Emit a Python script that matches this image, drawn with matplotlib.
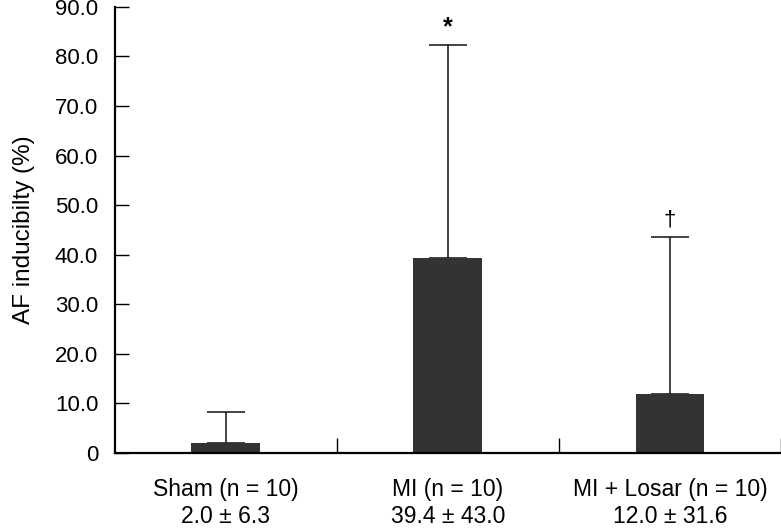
import matplotlib
matplotlib.use('Agg')
import matplotlib.pyplot as plt

# values
groups = ['Sham (n = 10)', 'MI (n = 10)', 'MI + Losar (n = 10)']
means = [2.0, 39.4, 12.0]
sds = [6.3, 43.0, 31.6]
marks = ['', '*', '\u2020']
yticks = [0, 10, 20, 30, 40, 50, 60, 70, 80, 90]

plt.rcParams['font.family'] = ['Liberation Sans', 'DejaVu Sans']

fig = plt.figure(figsize=(7.81, 5.28), dpi=100)
ax = fig.add_axes([0.147, 0.142, 0.853, 0.845])

x = list(range(len(groups)))
ax.bar(x, means, width=0.31, color='#333333', zorder=2)
ax.errorbar(x, means, yerr=[[0] * len(sds), sds], fmt='none', ecolor='#111111',
            elinewidth=1.1, capsize=14, capthick=1.1, zorder=1)

# significance marks above the error bars
for xi, m, s, t in zip(x, means, sds, marks):
    if t == '*':
        ax.text(xi, m + s + 1.0, t, ha='center', va='bottom', fontsize=18, fontweight='bold')
    elif t:
        ax.text(xi, m + s + 1.2, t, ha='center', va='bottom', fontsize=16)

ax.set_xlim(-0.5, 2.5)
ax.set_ylim(0, 90)
ax.set_yticks(yticks)
ax.set_yticklabels(['0'] + ['%.1f' % v for v in yticks[1:]], fontsize=16)
ax.set_xticks([0.5, 1.5, 2.5])
ax.set_xticklabels([])
ax.tick_params(axis='y', direction='in', length=10, width=1.0, pad=12)
ax.tick_params(axis='x', direction='in', length=11, width=1.0)

for xi, g, m, s in zip(x, groups, means, sds):
    ax.text(xi, -0.055, '%s\n%.1f \u00b1 %.1f' % (g, m, s), transform=ax.get_xaxis_transform(),
            ha='center', va='top', fontsize=16.5, linespacing=1.25)

ax.set_ylabel('AF inducibilty (%)', fontsize=17.5, labelpad=14)

ax.spines['top'].set_visible(False)
ax.spines['right'].set_visible(False)
ax.spines['left'].set_linewidth(1.6)
ax.spines['bottom'].set_linewidth(1.6)

fig.savefig('out.png', dpi=100)
